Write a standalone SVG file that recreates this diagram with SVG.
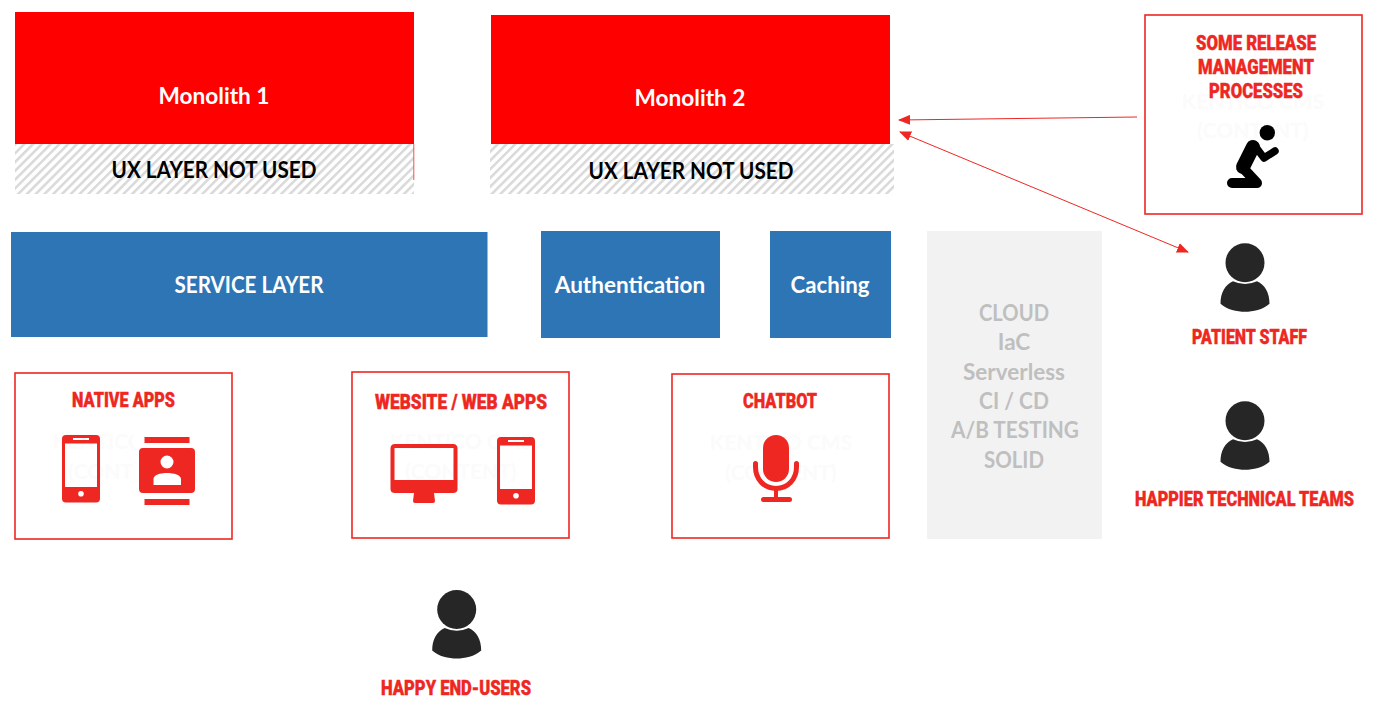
<svg xmlns="http://www.w3.org/2000/svg" width="1377" height="707" viewBox="0 0 1377 707">
<style>
text{font-family:"Lato","Carlito","Open Sans",sans-serif;font-weight:700;text-anchor:middle}
.white{fill:#fff;font-size:22.5px}
.black{fill:#000;font-size:23px}
.title{font-family:"Roboto","Liberation Sans",sans-serif;font-weight:900;fill:#ee2722;stroke:#ee2722;stroke-width:.4px;font-size:20px;text-anchor:start}
.ghost{fill:#fbfbfb;font-size:21px}
.grey{fill:#bfbfbf;font-size:22.5px}
.red{fill:#f00}
.blue{fill:#2e75b6}
.hatch{fill:url(#h)}
.box{fill:#fff;stroke:#ee2722;stroke-width:1.6}
.ic{fill:#ee2722}
.conn{fill:none;stroke:#ee2722;stroke-width:1}
.k{fill:none;stroke:#000;stroke-linecap:round;stroke-linejoin:round}
</style>
<defs>
<pattern id="h" width="6.2" height="6.2" patternUnits="userSpaceOnUse" patternTransform="rotate(45)">
<rect width="6.2" height="6.2" fill="#fff"/><rect width="2.5" height="6.2" fill="#d9d9d9"/>
</pattern>
<marker id="a" viewBox="0 0 12 10" refX="11" refY="5" markerWidth="12" markerHeight="10" markerUnits="userSpaceOnUse" orient="auto-start-reverse"><path d="M0 0L12 5L0 10Z" fill="#ee2722"/></marker>
<g id="person"><circle r="19.5" fill="#262626"/><path d="M-12 18.5Q0 24 12 18.5C20 22 24.5 30 24.5 41C18 47 8 49 0 49C-8 49-18 47-24.5 41C-24.5 30-20 22-12 18.5Z" fill="#262626"/></g>
<g id="phone"><path fill-rule="evenodd" class="ic" d="M4 0H34Q38 0 38 4V63.500Q38 67.500 34 67.500H4Q0 67.500 0 63.500V4Q0 0 4 0ZM3 8.500V52H35V8.500ZM11 3V5H27V3ZM19 56A2.800 2.800 0 1 0 19 61.600A2.800 2.800 0 1 0 19 56Z"/></g>
</defs>
<rect width="1377" height="707" fill="#fff"/>
<g id="monolith-1">
<rect class="red" x="15" y="12" width="399" height="132"/>
<rect class="hatch" x="15" y="144" width="399" height="50"/>
<path d="M413.800 144V180" stroke="#ee5555" stroke-width="1" fill="none"/>
<text class="white" x="214" y="103.500" textLength="111" lengthAdjust="spacingAndGlyphs">Monolith 1</text>
<text class="black" x="214" y="178" textLength="205" lengthAdjust="spacingAndGlyphs">UX LAYER NOT USED</text>
</g>
<g id="monolith-2">
<rect class="hatch" x="490" y="144" width="404" height="50"/>
<rect class="red" x="491" y="15" width="399" height="129"/>
<text class="white" x="690" y="105.500" textLength="111" lengthAdjust="spacingAndGlyphs">Monolith 2</text>
<text class="black" x="691" y="179" textLength="205" lengthAdjust="spacingAndGlyphs">UX LAYER NOT USED</text>
</g>
<g id="service-layer"><rect class="blue" x="11" y="232" width="476.500" height="105"/><text class="white" x="249" y="293" textLength="149" lengthAdjust="spacingAndGlyphs">SERVICE LAYER</text></g>
<g id="authentication"><rect class="blue" x="541" y="231" width="179" height="107"/><text class="white" x="630" y="293">Authentication</text></g>
<g id="caching"><rect class="blue" x="770" y="231" width="121" height="107"/><text class="white" x="830" y="293" textLength="79" lengthAdjust="spacingAndGlyphs">Caching</text></g>
<g id="platform">
<rect x="927" y="231" width="175" height="308" fill="#f2f2f2"/>
<text class="grey" x="1014" y="320.500" textLength="70" lengthAdjust="spacingAndGlyphs">CLOUD</text>
<text class="grey" x="1014" y="349.500">IaC</text>
<text class="grey" x="1014" y="379.500">Serverless</text>
<text class="grey" x="1014" y="408.500" textLength="70" lengthAdjust="spacingAndGlyphs">CI / CD</text>
<text class="grey" x="1015" y="437.500" textLength="128" lengthAdjust="spacingAndGlyphs">A/B TESTING</text>
<text class="grey" x="1014" y="467.500" textLength="60" lengthAdjust="spacingAndGlyphs">SOLID</text>
</g>
<g id="native-apps">
<rect class="box" x="15" y="373" width="217" height="166"/>
<text class="ghost" x="124" y="449">KENTICO CMS</text>
<text class="ghost" x="124" y="479">(CONTENT)</text>
<rect x="134" y="428" width="68" height="84" fill="#fff"/>
<text class="title" x="72" y="407" textLength="103" lengthAdjust="spacingAndGlyphs">NATIVE APPS</text>
<use href="#phone" x="62" y="435"/>
<path class="ic" d="M144.500 437H189.500V443H144.500ZM144.500 499H189.500V505H144.500Z"/>
<path class="ic" fill-rule="evenodd" d="M143 448H191Q195 448 195 452V489Q195 493 191 493H143Q139 493 139 489V452Q139 448 143 448ZM167 455.500A6.500 6.500 0 1 0 167 468.500A6.500 6.500 0 1 0 167 455.500ZM153.500 485H181V479C181 475 174 473 167 473C160 473 153.500 475 153.500 479Z"/>
</g>
<g id="website-web-apps">
<rect class="box" x="352" y="372" width="217" height="166"/>
<text class="ghost" x="461" y="449">KENTICO CMS</text>
<text class="ghost" x="461" y="479">(CONTENT)</text>
<text class="title" x="375" y="409" textLength="172" lengthAdjust="spacingAndGlyphs">WEBSITE / WEB APPS</text>
<path class="ic" fill-rule="evenodd" d="M395 444H453Q457.500 444 457.500 448.500V489Q457.500 493 453 493H395Q390.500 493 390.500 489V448.500Q390.500 444 395 444ZM394.500 448V480H453.500V448ZM414 493H434L435 501Q435 503 433 503H415Q413 503 413 501Z"/>
<use href="#phone" x="497" y="437"/>
</g>
<g id="chatbot">
<rect class="box" x="672" y="374" width="217" height="164"/>
<text class="ghost" x="781" y="450">KENTICO CMS</text>
<text class="ghost" x="781" y="480">(CONTENT)</text>
<text class="title" x="743" y="408" textLength="74" lengthAdjust="spacingAndGlyphs">CHATBOT</text>
<rect class="ic" x="763" y="435" width="26" height="47" rx="13"/>
<path d="M755.500 463.500V467C755.500 479 764 488.500 776 488.500C788 488.500 796.500 479 796.500 467V463.500" fill="none" stroke="#ee2722" stroke-width="5" stroke-linecap="round"/>
<path class="ic" d="M774 488H778V497H774Z"/>
<rect class="ic" x="761" y="497" width="31" height="5" rx="2.500"/>
</g>
<g id="release-management">
<rect class="box" x="1145" y="15" width="217" height="199"/>
<text class="ghost" x="1253" y="109">KENTICO CMS</text>
<text class="ghost" x="1253" y="138">(CONTENT)</text>
<text class="title" x="1196" y="50" textLength="120" lengthAdjust="spacingAndGlyphs">SOME RELEASE</text>
<text class="title" x="1198" y="74" textLength="116" lengthAdjust="spacingAndGlyphs">MANAGEMENT</text>
<text class="title" x="1209" y="98" textLength="94" lengthAdjust="spacingAndGlyphs">PROCESSES</text>
<circle cx="1267.300" cy="132.700" r="7.700" fill="#000"/>
<path class="k" stroke-width="14" d="M1253 147L1243 167"/>
<path class="k" stroke-width="10" d="M1243 168L1257 183H1232"/>
<path class="k" stroke-width="7.500" d="M1255 146L1264 158L1275 151"/>
</g>
<g id="patient-staff">
<use href="#person" x="1245" y="262.700"/>
<text class="title" x="1192" y="344" textLength="115" lengthAdjust="spacingAndGlyphs">PATIENT STAFF</text>
</g>
<g id="happier-technical-teams">
<use href="#person" x="1245" y="420.700"/>
<text class="title" x="1135" y="506" textLength="219" lengthAdjust="spacingAndGlyphs">HAPPIER TECHNICAL TEAMS</text>
</g>
<g id="happy-end-users">
<use href="#person" x="456.700" y="609.500"/>
<text class="title" x="381" y="695" textLength="150" lengthAdjust="spacingAndGlyphs">HAPPY END-USERS</text>
</g>
<g id="connectors">
<path class="conn" d="M1137 117L899 120" marker-end="url(#a)"/>
<path class="conn" d="M900 132L1188 252" marker-start="url(#a)" marker-end="url(#a)"/>
</g>
</svg>
